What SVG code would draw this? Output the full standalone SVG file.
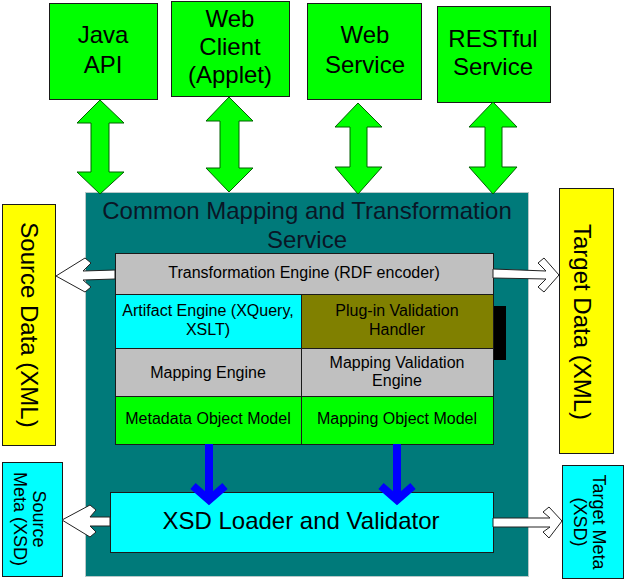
<svg xmlns="http://www.w3.org/2000/svg" width="624" height="580" viewBox="0 0 624 580">
<style>
text{font-family:"Liberation Sans",Arial,sans-serif;fill:#000;text-anchor:middle}
.big{font-size:24px}
.mid{font-size:18px}
.sm{font-size:16px}
.title{font-size:24px;fill:#0a1626}
.box{stroke:#1a1a1a;stroke-width:1}
.green{fill:#00ff00}
.cyan{fill:#00ffff}
.gray{fill:#c0c0c0}
.yellow{fill:#ffff00}
.dbl{fill:#00ff00;stroke:#006000;stroke-width:1;stroke-linejoin:miter}
.hollow{fill:#fff;stroke:#222;stroke-width:1}
.blue{fill:none;stroke:#0000ff;stroke-width:8;stroke-linejoin:miter}
</style>
<rect width="624" height="580" fill="#fff"/>
<g id="service">
<rect x="85.5" y="192.5" width="443" height="384" fill="#007a7a" stroke="#b8c8c8" stroke-width="1"/>
<text class="title" x="307" y="219">Common Mapping and Transformation</text>
<text class="title" x="307" y="248">Service</text>
</g>
<g id="java-api"><rect class="box green" x="49.5" y="3.5" width="108" height="96"/><text class="big" x="103" y="43">Java</text><text class="big" x="103" y="73">API</text></g>
<g id="web-client"><rect class="box green" x="171.5" y="1.5" width="118" height="95"/><text class="big" x="230" y="27">Web</text><text class="big" x="230" y="55">Client</text><text class="big" x="230" y="83">(Applet)</text></g>
<g id="web-service"><rect class="box green" x="307.5" y="3.5" width="114" height="96"/><text class="big" x="365" y="43">Web</text><text class="big" x="365" y="73">Service</text></g>
<g id="restful-service"><rect class="box green" x="437.5" y="6.5" width="113" height="96"/><text class="big" x="493" y="47">RESTful</text><text class="big" x="493" y="75">Service</text></g>
<g id="source-data"><rect class="box yellow" x="2.5" y="204.5" width="53" height="241"/><text class="big" transform="translate(21,325) rotate(90)">Source Data (XML)</text></g>
<g id="target-data"><rect class="box yellow" x="559.5" y="188.5" width="54" height="265"/><text class="big" transform="translate(574,322) rotate(90)">Target Data (XML)</text></g>
<g id="source-meta"><rect class="box cyan" x="2.5" y="462.5" width="60" height="114"/><text class="mid" transform="translate(33,519) rotate(90)">Source</text><text class="mid" transform="translate(14,519) rotate(90)">Meta (XSD)</text></g>
<g id="target-meta"><rect class="box cyan" x="562.5" y="465.5" width="61" height="113"/><text class="mid" transform="translate(593,522) rotate(90)">Target Meta</text><text class="mid" transform="translate(574,522) rotate(90)">(XSD)</text></g>
<g id="transformation-engine"><rect class="box gray" x="115.5" y="253.5" width="378" height="41"/><text class="sm" x="304" y="278">Transformation Engine (RDF encoder)</text></g>
<g id="plugin-handle"><rect x="493" y="306" width="13" height="54" fill="#000"/></g>
<g id="artifact-engine"><rect class="box cyan" x="115.5" y="294.5" width="186" height="54"/><text class="sm" x="208" y="316">Artifact Engine (XQuery,</text><text class="sm" x="208" y="335">XSLT)</text></g>
<g id="plugin-validation"><rect class="box" fill="#808000" x="301.5" y="294.5" width="192" height="54"/><text class="sm" x="397" y="316">Plug-in Validation</text><text class="sm" x="397" y="335">Handler</text></g>
<g id="mapping-engine"><rect class="box gray" x="115.5" y="348.5" width="186" height="48"/><text class="sm" x="208" y="378">Mapping Engine</text></g>
<g id="mapping-validation"><rect class="box gray" x="301.5" y="348.5" width="192" height="48"/><text class="sm" x="397" y="368">Mapping Validation</text><text class="sm" x="397" y="386">Engine</text></g>
<g id="metadata-object-model"><rect class="box green" x="115.5" y="396.5" width="186" height="48"/><text class="sm" x="208" y="424">Metadata Object Model</text></g>
<g id="mapping-object-model"><rect class="box green" x="301.5" y="396.5" width="192" height="48"/><text class="sm" x="397" y="424">Mapping Object Model</text></g>
<g id="xsd-loader"><rect class="box cyan" x="110.5" y="492.5" width="383" height="60"/><text class="big" x="301" y="529">XSD Loader and Validator</text></g>
<g id="connectors">
<polygon class="dbl" points="100,100 124,123 109,123 109,172 124,172 100,194 77,172 91,172 91,123 77,123"/>
<polygon class="dbl" points="229,97 253,121 239,121 239,168 253,168 229,192 206,168 220,168 220,121 206,121"/>
<polygon class="dbl" points="358,103 382,127 367,127 367,167 382,167 358,194 335,167 350,167 350,127 335,127"/>
<polygon class="dbl" points="493,102 517,127 502,127 502,167 517,167 493,194 469,167 485,167 485,127 469,127"/>
<polygon class="hollow" points="115,270 83,271 91,263 85,258 56,276 85,292 91,287 83,280 115,279"/>
<polygon class="hollow" points="493,269 546,271 538,263 544,258 559,275 544,292 538,287 546,279 493,278"/>
<polygon class="hollow" points="110,517 90,517 96,510 90,505 62,520 90,537 96,532 90,526 110,526"/>
<polygon class="hollow" points="493,518 550,518 543,512 549,507 562,521 549,538 543,532 550,527 493,527"/>
<path class="blue" d="M209,444 V500 M193,486 L209,500 L225,486"/>
<path class="blue" d="M397,444 V500 M381,486 L397,500 L413,486"/>
</g>
</svg>
